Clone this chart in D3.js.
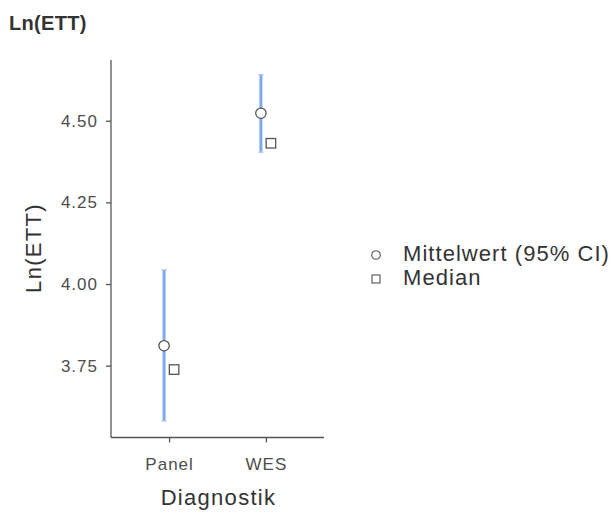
<!DOCTYPE html>
<html>
<head>
<meta charset="utf-8">
<script src="https://cdn.jsdelivr.net/npm/d3@7"></script>
<style>
  html, body { margin: 0; padding: 0; background: #fff; }
  svg { display: block; font-family: "Liberation Sans", Arial, Helvetica, sans-serif; }
</style>
</head>
<body>
<svg id="chart" width="615" height="513"></svg>
<script>
// Estimated marginal summaries of Ln(ETT) by diagnostic method
const groups = ["Panel", "WES"];
const means = [3.811, 4.523];
const ciLower = [3.581, 4.404];
const ciUpper = [4.043, 4.641];
const medians = [3.738, 4.431];
const yTicks = [3.75, 4.00, 4.25, 4.50];
const legendLabels = ["Mittelwert (95% CI)", "Median"];

const svg = d3.select("#chart");
const plot = { left: 111, right: 324, top: 60, bottom: 437.5 };

// Discrete x positions with ggplot-style 0.6 expansion on each side
const x = d3.scaleLinear()
  .domain([0.4, 2.6])
  .range([plot.left, plot.right]);
const xPos = i => x(i + 1);

const y = d3.scaleLinear()
  .domain([3.530, 4.686])
  .range([plot.bottom, plot.top]);

const dodge = 5;
const ink = "#555";
const textCol = "#333";
const tickText = "#4d4d4d";

// Plot title
svg.append("text")
  .attr("x", 9).attr("y", 30)
  .attr("font-size", 20).attr("font-weight", "bold")
  .attr("letter-spacing", 0.3)
  .attr("fill", textCol)
  .text("Ln(ETT)");

// Y axis
const yAxis = svg.append("g")
  .attr("transform", `translate(${plot.left},0)`)
  .call(d3.axisLeft(y).tickValues(yTicks).tickFormat(d3.format(".2f")).tickSize(5).tickPadding(8));
yAxis.select(".domain").attr("d", `M0,${plot.top}V${plot.bottom}`);

// X axis
const xAxis = svg.append("g")
  .attr("transform", `translate(0,${plot.bottom})`)
  .call(d3.axisBottom(x).tickValues([1, 2]).tickFormat((d) => groups[d - 1]).tickSize(5).tickPadding(15));
xAxis.select(".domain").attr("d", `M${plot.left},0H${plot.right}`);

[yAxis, xAxis].forEach(ax => {
  ax.select(".domain").attr("stroke", ink).attr("stroke-width", 1.3);
  ax.selectAll(".tick line").attr("stroke", ink).attr("stroke-width", 1.3);
  ax.selectAll(".tick text").attr("fill", tickText).attr("font-size", 17)
    .attr("letter-spacing", 1)
    .attr("font-family", "Liberation Sans, Arial, sans-serif");
});

// Axis titles
svg.append("text")
  .attr("transform", `translate(41,${248}) rotate(-90)`)
  .attr("text-anchor", "middle")
  .attr("font-size", 22).attr("letter-spacing", 1.3).attr("fill", textCol)
  .text("Ln(ETT)");

svg.append("text")
  .attr("x", (plot.left + plot.right) / 2 + 1).attr("y", 505)
  .attr("text-anchor", "middle")
  .attr("font-size", 22).attr("letter-spacing", 1.3).attr("fill", textCol)
  .text("Diagnostik");

const barColor = "#7ea8ea";

// Confidence intervals
const g = svg.append("g");
groups.forEach((grp, i) => {
  const cx = xPos(i) - dodge;
  g.append("line")
    .attr("x1", cx).attr("x2", cx)
    .attr("y1", y(ciLower[i])).attr("y2", y(ciUpper[i]))
    .attr("stroke", barColor).attr("stroke-width", 3);
  [ciLower[i], ciUpper[i]].forEach(v => {
    g.append("line")
      .attr("x1", cx - 2.5).attr("x2", cx + 2.5)
      .attr("y1", y(v)).attr("y2", y(v))
      .attr("stroke", "#a9c4ef").attr("stroke-width", 1.5);
  });
});

// Means
g.selectAll("circle.mean")
  .data(means)
  .join("circle")
  .attr("class", "mean")
  .attr("cx", (d, i) => xPos(i) - dodge)
  .attr("cy", d => y(d))
  .attr("r", 5.2)
  .attr("fill", "#fff").attr("stroke", ink).attr("stroke-width", 1.3);

// Medians
const sq = 9.5;
g.selectAll("rect.median")
  .data(medians)
  .join("rect")
  .attr("class", "median")
  .attr("x", (d, i) => xPos(i) + dodge - sq / 2)
  .attr("y", d => y(d) - sq / 2)
  .attr("width", sq).attr("height", sq)
  .attr("fill", "#fff").attr("stroke", ink).attr("stroke-width", 1.3);

// Legend
const legend = svg.append("g").attr("transform", "translate(376,255)");
legend.append("circle")
  .attr("cx", 0).attr("cy", 0).attr("r", 4.3)
  .attr("fill", "#fff").attr("stroke", ink).attr("stroke-width", 1.1);
legend.append("rect")
  .attr("x", -4).attr("y", 20).attr("width", 8).attr("height", 8)
  .attr("fill", "#fff").attr("stroke", ink).attr("stroke-width", 1.1);
legend.selectAll("text")
  .data(legendLabels)
  .join("text")
  .attr("x", 27)
  .attr("y", (d, i) => 6 + i * 23.5)
  .attr("font-size", 22).attr("letter-spacing", 1.05).attr("fill", textCol)
  .text(d => d);
</script>
</body>
</html>
